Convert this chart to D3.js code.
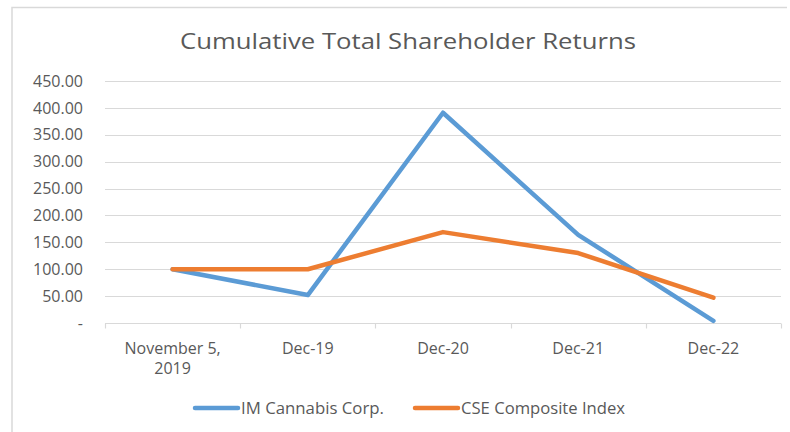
<!DOCTYPE html>
<html><head><meta charset="utf-8">
<script src="https://cdn.jsdelivr.net/npm/d3@7"></script>
<style>body{margin:0;background:#fff}svg{display:block}text{font-family:"Open Sans",sans-serif;fill:#595959}</style>
</head><body>
<script>
const categories = ["November 5,\n2019", "Dec-19", "Dec-20", "Dec-21", "Dec-22"];
const imCannabis = [100, 52, 391, 164, 4];
const cseIndex = [100, 100, 169, 130, 47];
const seriesNames = ["IM Cannabis Corp.", "CSE Composite Index"];
const yTicks = [0, 50, 100, 150, 200, 250, 300, 350, 400, 450];
const title = "Cumulative Total Shareholder Returns";

const W = 790, H = 432;
const svg = d3.select("body").append("svg").attr("width", W).attr("height", H);
// chart border
svg.append("path").attr("d", "M12,432V7.5H787").attr("fill", "none").attr("stroke", "#D9D9D9").attr("stroke-width", 1.5);

const m = {left: 105, right: 781, top: 81, bottom: 323};
const x = d3.scaleBand().domain(categories).range([m.left, m.right]);
const y = d3.scaleLinear().domain([0, 450]).range([m.bottom, m.top]);

svg.append("text").attr("x", 180).attr("y", 49)
  .attr("textLength", 456).attr("lengthAdjust", "spacingAndGlyphs")
  .style("font-size", "21.5px").text(title);

// gridlines
svg.append("g").selectAll("line").data(yTicks.filter(d => d > 0)).join("line")
  .attr("x1", m.left).attr("x2", m.right)
  .attr("y1", d => Math.round(y(d)) + 0.5).attr("y2", d => Math.round(y(d)) + 0.5)
  .attr("stroke", "#D9D9D9").attr("stroke-width", 1.2);

// y axis labels
const yAxis = d3.axisLeft(y).tickValues(yTicks).tickSize(0).tickPadding(0)
  .tickFormat(d => d === 0 ? "-" : d3.format(".2f")(d));
const yg = svg.append("g").attr("transform", `translate(${m.left - 22},0)`).call(yAxis);
yg.select(".domain").remove();
yg.selectAll("text").style("font-size", "16px").attr("fill", "#595959").style("font-family", '"Open Sans",sans-serif');

// x axis
const xAxis = d3.axisBottom(x).tickSize(0).tickFormat("");
const xg = svg.append("g").attr("transform", `translate(0,${m.bottom + 0.5})`).call(xAxis);
xg.select(".domain").attr("stroke", "#D9D9D9").attr("stroke-width", 1.2).attr("d", `M${m.left},0H${m.right}`);
const bounds = categories.map(c => x(c)).concat([m.right]);
xg.append("g").selectAll("line").data(bounds).join("line")
  .attr("x1", d => Math.round(d) + 0.5).attr("x2", d => Math.round(d) + 0.5).attr("y1", 0).attr("y2", 5)
  .attr("stroke", "#D9D9D9").attr("stroke-width", 1.2);
const xl = svg.append("g").selectAll("text").data(categories).join("text")
  .attr("text-anchor", "middle").style("font-size", "16px")
  .attr("x", d => x(d) + x.bandwidth() / 2).attr("y", 354);
xl.each(function(d) {
  const parts = d.split("\n");
  d3.select(this).selectAll("tspan").data(parts).join("tspan")
    .attr("x", x(d) + x.bandwidth() / 2).attr("dy", (p, i) => i === 0 ? 0 : 20).text(p => p);
});

const colors = ["#5B9BD5", "#ED7D31"];
const line = d3.line().x((d, i) => x(categories[i]) + x.bandwidth() / 2).y(d => y(d));
[imCannabis, cseIndex].forEach((s, k) => {
  svg.append("path").datum(s).attr("d", line).attr("fill", "none")
    .attr("stroke", colors[k]).attr("stroke-width", 4.5).attr("stroke-linejoin", "round").attr("stroke-linecap", "round");
});

// legend
const legX = [195, 415];
const legLen = [143, 164];
seriesNames.forEach((n, k) => {
  const g = svg.append("g").attr("transform", `translate(${legX[k]},408)`);
  g.append("line").attr("x1", 0).attr("x2", 43).attr("y1", 0).attr("y2", 0)
    .attr("stroke", colors[k]).attr("stroke-width", 4.5).attr("stroke-linecap", "round");
  g.append("text").attr("x", 46).attr("y", 5.5).style("font-size", "15.5px")
    .attr("textLength", legLen[k]).attr("lengthAdjust", "spacingAndGlyphs").text(n);
});
</script>
</body></html>
